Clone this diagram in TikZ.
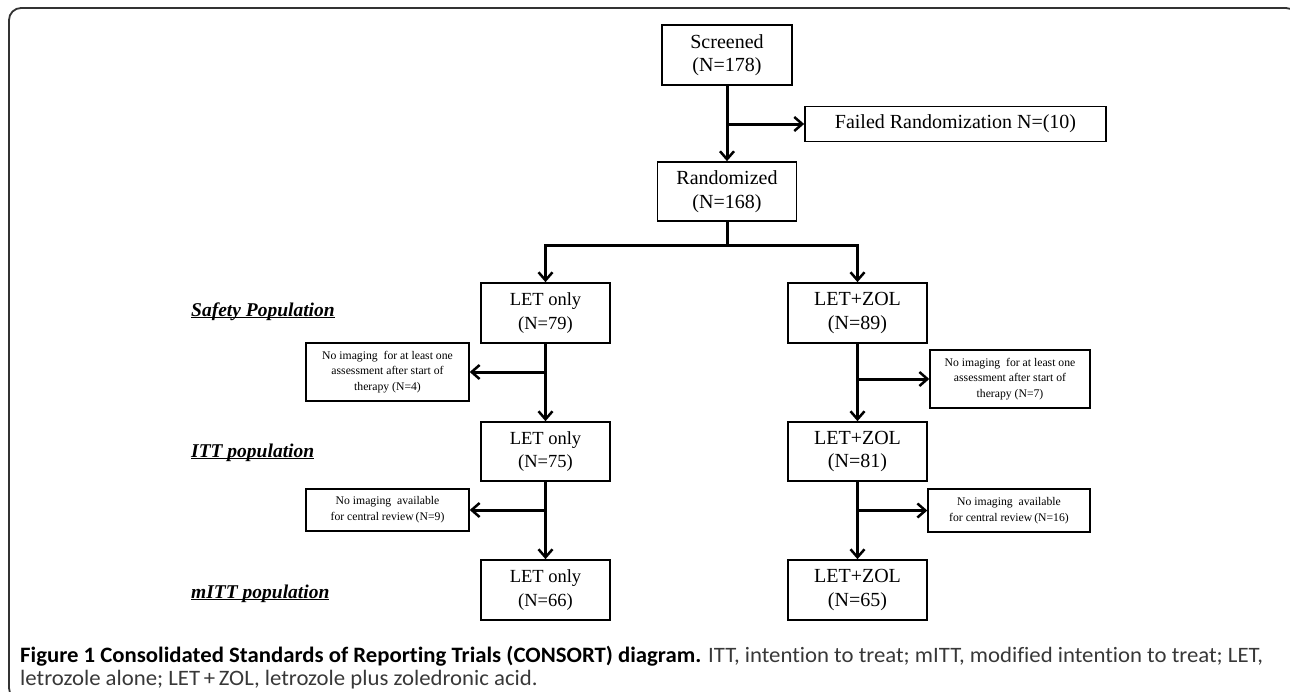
\documentclass[tikz,border=0pt]{standalone}
\usepackage{fontspec}
\setmainfont{Liberation Serif}
\newfontfamily\capfont[FakeStretch=1.035, Ligatures=NoCommon]{Carlito}
\usetikzlibrary{arrows.meta}
\newcommand\myul[1]{\setbox0\hbox{#1}\rlap{\rule[-2.4pt]{\wd0}{1.3pt}}\box0}
\tikzset{
  box/.style={draw=black, line width=1.7pt, align=center, inner sep=0pt,
    font=\fontsize{20}{23.5}\selectfont},
  lbox/.style={box, font=\fontsize{18.5}{23.5}\selectfont, minimum width=129pt, minimum height=60pt},
  rbox/.style={box, minimum width=139pt, minimum height=60pt},
  xbox/.style={draw=black, line width=1.4pt, align=center, inner sep=0pt,
    font=\fontsize{11.7}{15.8}\selectfont},
  arr/.style={line width=3pt, -{Straight Barb[length=8pt,width=14pt,line width=2.5pt]}},
  ln/.style={line width=3pt},
  poplabel/.style={anchor=base west, inner sep=0pt, font=\fontsize{19.5}{22}\selectfont\bfseries\itshape},
  frame/.style={draw=black!80, line width=1.8pt, rounded corners=12pt},
  capline/.style={anchor=base west, inner sep=0pt, font=\capfont\fontsize{22}{24}\selectfont}
}
\begin{document}
\begin{tikzpicture}[x=1pt,y=-1pt]
\useasboundingbox (0,0) rectangle (1290,691);
\clip (0,0) rectangle (1290,691);
\draw[frame] (1298,40) -- (1298,8) -- (9,8) -- (9,700) -- (40,700);

% main column
\node[box, minimum width=130pt, minimum height=60pt] (scr) at (727,55) {Screened\\(N=178)};
\node[box, minimum width=301pt, minimum height=35pt] (fail) at (955.5,124) {Failed Randomization N=(10)};
\node[box, minimum width=139pt, minimum height=59pt] (rand) at (727,191.5) {Randomized\\(N=168)};

% left branch
\node[lbox] (l1) at (545.5,313) {LET only\\(N=79)};
\node[lbox, minimum height=59pt] (l2) at (545.5,451.5) {LET only\\(N=75)};
\node[lbox] (l3) at (545.5,590) {LET only\\(N=66)};
\node[xbox, minimum width=163pt, minimum height=58pt] (lx1) at (387.5,372) {No imaging~ for at least one\\assessment after start of\\therapy (N=4)};
\node[xbox, minimum width=163pt, minimum height=42pt] (lx2) at (387.5,510) {No imaging~ available\\for central review\,(N=9)};

% right branch
\node[rbox] (r1) at (857.5,313) {LET+ZOL\\(N=89)};
\node[rbox, minimum height=59pt] (r2) at (857.5,451.5) {LET+ZOL\\(N=81)};
\node[rbox] (r3) at (857.5,590) {LET+ZOL\\(N=65)};
\node[xbox, minimum width=160pt, minimum height=58pt] (rx1) at (1010,379) {No imaging~ for at least one\\assessment after start of\\therapy (N=7)};
\node[xbox, minimum width=162pt, minimum height=43pt] (rx2) at (1009,510.5) {No imaging~ available\\for central review\,(N=16)};

% population labels
\node[poplabel] (safety) at (191,316) {\myul{Safety Population}};
\node[poplabel] (itt) at (191,457) {\myul{ITT population}};
\node[poplabel] (mitt) at (191,598) {\myul{mITT population}};

% connectors
\coordinate (split) at (727,245);

\draw[arr] (scr.south) -- (rand.north);
\draw[arr] (scr.south |- fail.west) -- (fail.west);
\draw[ln] (rand.south) -- (split);
\draw[arr] ([xshift=1.5pt]split) -| (l1.north);
\draw[arr] ([xshift=-1.5pt]split) -| (r1.north);

\draw[arr] (l1.south) -- (l2.north);
\draw[arr] (l1.south |- lx1.east) -- (lx1.east);
\draw[arr] (l2.south) -- (l3.north);
\draw[arr] (l2.south |- lx2.east) -- (lx2.east);

\draw[arr] (r1.south) -- (r2.north);
\draw[arr] (r1.south |- rx1.west) -- (rx1.west);
\draw[arr] (r2.south) -- (r3.north);
\draw[arr] (r2.south |- rx2.west) -- (rx2.west);

% caption
\node[capline] (cap1) at (20,662)
{{\bfseries\color{black}Figure 1 Consolidated Standards of Reporting Trials (CONSORT) diagram.} {\color{black!78}ITT, intention to treat; mITT, modified intention to treat; LET,}};
\node[capline] (cap2) at (20,685)
{\color{black!78}letrozole alone; LET\,+\,ZOL, letrozole plus zoledronic acid.};
\end{tikzpicture}
\end{document}
